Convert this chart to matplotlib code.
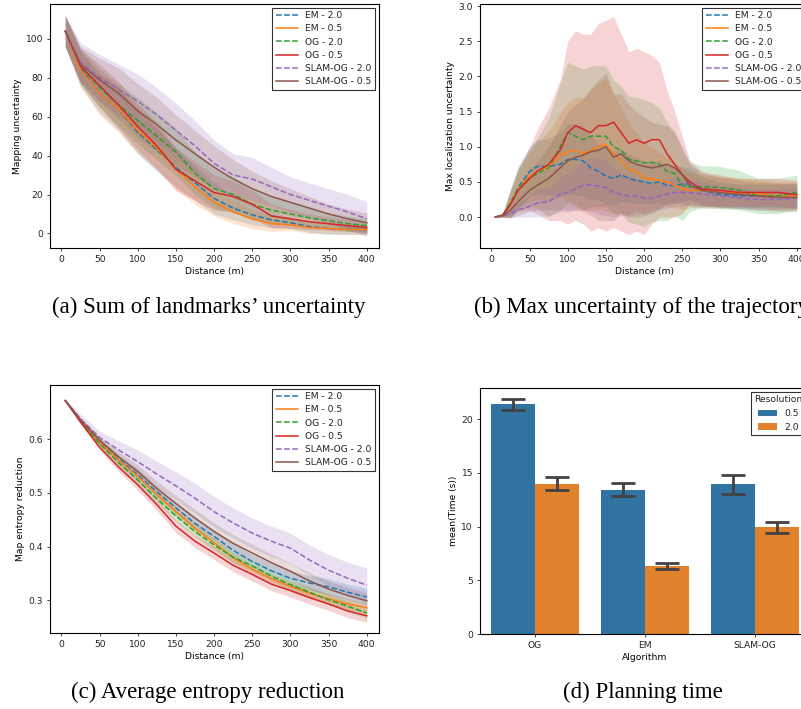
import numpy as np
import matplotlib
matplotlib.use('Agg')
import matplotlib.pyplot as plt

# series order for the three line panels
labels = ['EM - 2.0', 'EM - 0.5', 'OG - 2.0', 'OG - 0.5', 'SLAM-OG - 2.0', 'SLAM-OG - 0.5']
colors = ['#1f77b4', '#ff7f0e', '#2ca02c', '#d62728', '#9467bd', '#8c564b']
styles = ['--', '-', '--', '-', '--', '-']

# (a) mapping uncertainty
dist_a = [5, 25, 50, 75, 100, 125, 150, 175, 200, 225, 250, 275, 300, 325, 350, 375, 400]
map_mean = [
    [104, 85, 72, 64, 52, 43, 34, 26, 18, 13, 9.5, 7, 5.5, 3.5, 2.5, 2, 2],
    [104, 84, 72, 64, 53, 44, 33, 24, 16, 11, 7.5, 5, 4.5, 3, 2.5, 2, 2],
    [104, 86, 75, 66, 58, 50, 42, 31, 23, 20, 15, 12, 10, 8, 6.5, 5, 4],
    [104, 86, 76, 66, 55, 45, 33, 27, 21, 19, 15, 9, 7.5, 6, 5, 4, 3],
    [104, 88, 80, 74, 68, 61, 53, 45, 36, 30, 28, 24, 20, 17, 14, 11, 7.5],
    [104, 87, 79, 72, 63, 56, 48, 41, 34, 28, 23, 19, 16, 13, 10, 7.5, 5.5],
]
map_std = [
    [8, 9, 10, 11, 11, 11, 10, 9, 8, 6, 5, 4, 3, 3, 3, 2.5, 2.5],
    [8, 9, 11, 12, 12, 11, 10, 9, 7, 6, 5, 4, 3, 3, 2.5, 2.5, 2.5],
    [8, 9, 10, 11, 12, 12, 12, 11, 10, 9, 8, 7, 6, 5, 4, 4, 3.5],
    [8, 9, 11, 12, 12, 12, 11, 10, 9, 8, 7, 6, 5, 4, 3.5, 3, 3],
    [8, 10, 12, 13, 14, 14, 14, 13, 12, 11, 11, 10, 9, 9, 9, 9, 9],
    [8, 9, 11, 13, 14, 14, 13, 12, 11, 10, 9, 8, 7, 6, 5, 5, 5],
]

# (b) max localization uncertainty
dist_b = [5, 15, 25, 35, 50, 60, 75, 90, 100, 110, 120, 130, 140, 150, 160, 170, 180,
          190, 200, 210, 220, 230, 240, 250, 260, 275, 300, 325, 350, 375, 400]
loc_mean = [
    [0, 0.03, 0.2, 0.42, 0.65, 0.72, 0.72, 0.75, 0.82, 0.82, 0.8, 0.7, 0.65, 0.58, 0.55, 0.6,
     0.55, 0.52, 0.5, 0.48, 0.5, 0.45, 0.45, 0.47, 0.47, 0.38, 0.32, 0.3, 0.3, 0.3, 0.3],
    [0, 0.02, 0.2, 0.4, 0.58, 0.65, 0.72, 0.88, 0.93, 0.95, 0.9, 0.95, 1.0, 1.03, 0.9, 0.8,
     0.68, 0.65, 0.55, 0.55, 0.52, 0.5, 0.45, 0.4, 0.38, 0.38, 0.35, 0.35, 0.33, 0.3, 0.3],
    [0, 0.03, 0.2, 0.4, 0.55, 0.62, 0.7, 1.0, 1.2, 1.15, 1.1, 1.15, 1.15, 1.15, 1.0, 0.95,
     0.82, 0.8, 0.77, 0.78, 0.75, 0.65, 0.62, 0.45, 0.43, 0.43, 0.42, 0.38, 0.3, 0.3, 0.35],
    [0, 0.03, 0.18, 0.38, 0.55, 0.65, 0.75, 0.95, 1.2, 1.3, 1.25, 1.2, 1.3, 1.3, 1.35, 1.2,
     1.05, 1.1, 1.05, 1.1, 1.1, 0.9, 0.75, 0.6, 0.5, 0.4, 0.38, 0.35, 0.35, 0.35, 0.32],
    [0, 0.02, 0.05, 0.1, 0.15, 0.2, 0.22, 0.32, 0.35, 0.4, 0.45, 0.46, 0.44, 0.42, 0.35, 0.32,
     0.3, 0.3, 0.27, 0.27, 0.3, 0.33, 0.35, 0.35, 0.35, 0.33, 0.3, 0.27, 0.25, 0.25, 0.27],
    [0, 0.02, 0.1, 0.22, 0.38, 0.45, 0.55, 0.7, 0.8, 0.85, 0.88, 0.93, 0.95, 1.0, 0.85, 0.9,
     0.8, 0.75, 0.72, 0.7, 0.72, 0.75, 0.7, 0.6, 0.45, 0.38, 0.35, 0.32, 0.3, 0.28, 0.28],
]
loc_std = [
    [0, 0.03, 0.2, 0.3, 0.35, 0.38, 0.4, 0.45, 0.5, 0.5, 0.5, 0.45, 0.4, 0.4, 0.38, 0.38,
     0.35, 0.33, 0.3, 0.3, 0.3, 0.28, 0.25, 0.25, 0.22, 0.2, 0.18, 0.17, 0.17, 0.17, 0.17],
    [0, 0.02, 0.15, 0.25, 0.35, 0.4, 0.5, 0.6, 0.7, 0.75, 0.8, 0.85, 0.9, 0.95, 0.85, 0.75,
     0.65, 0.55, 0.5, 0.45, 0.4, 0.35, 0.32, 0.3, 0.25, 0.22, 0.22, 0.2, 0.2, 0.2, 0.2],
    [0, 0.03, 0.2, 0.3, 0.4, 0.5, 0.7, 0.9, 1.0, 1.0, 1.0, 1.0, 1.0, 1.0, 0.95, 0.9,
     0.9, 0.9, 0.9, 0.85, 0.8, 0.7, 0.6, 0.5, 0.35, 0.3, 0.3, 0.28, 0.25, 0.25, 0.25],
    [0, 0.03, 0.2, 0.3, 0.45, 0.6, 0.8, 1.0, 1.3, 1.35, 1.35, 1.4, 1.45, 1.5, 1.5, 1.4,
     1.3, 1.3, 1.3, 1.2, 1.1, 0.9, 0.75, 0.55, 0.3, 0.25, 0.22, 0.2, 0.2, 0.2, 0.2],
    [0, 0.02, 0.05, 0.1, 0.15, 0.2, 0.2, 0.25, 0.28, 0.3, 0.35, 0.38, 0.4, 0.4, 0.35, 0.3,
     0.28, 0.25, 0.22, 0.2, 0.2, 0.2, 0.2, 0.2, 0.18, 0.17, 0.15, 0.15, 0.15, 0.15, 0.15],
    [0, 0.02, 0.1, 0.2, 0.3, 0.35, 0.45, 0.6, 0.7, 0.75, 0.8, 0.9, 1.0, 1.05, 0.9, 0.85,
     0.8, 0.75, 0.7, 0.65, 0.6, 0.55, 0.5, 0.4, 0.3, 0.25, 0.22, 0.2, 0.2, 0.2, 0.2],
]

# (c) map entropy reduction
dist_c = [5, 25, 50, 75, 100, 125, 150, 175, 200, 225, 250, 275, 300, 325, 350, 375, 400]
ent_mean = [
    [0.672, 0.635, 0.596, 0.563, 0.534, 0.502, 0.472, 0.443, 0.419, 0.393, 0.372, 0.355, 0.341, 0.332, 0.325, 0.315, 0.306],
    [0.672, 0.635, 0.595, 0.561, 0.531, 0.497, 0.465, 0.434, 0.407, 0.379, 0.358, 0.34, 0.326, 0.313, 0.303, 0.293, 0.286],
    [0.672, 0.634, 0.592, 0.556, 0.524, 0.489, 0.457, 0.428, 0.403, 0.38, 0.364, 0.345, 0.329, 0.315, 0.301, 0.289, 0.276],
    [0.672, 0.632, 0.585, 0.548, 0.515, 0.478, 0.438, 0.41, 0.388, 0.365, 0.348, 0.33, 0.318, 0.305, 0.293, 0.28, 0.271],
    [0.672, 0.638, 0.603, 0.58, 0.558, 0.535, 0.513, 0.49, 0.465, 0.444, 0.425, 0.41, 0.397, 0.375, 0.356, 0.341, 0.328],
    [0.672, 0.636, 0.598, 0.567, 0.54, 0.508, 0.48, 0.453, 0.428, 0.406, 0.388, 0.37, 0.354, 0.336, 0.321, 0.309, 0.299],
]
ent_std = [
    [0.002, 0.004, 0.006, 0.008, 0.01, 0.011, 0.012, 0.012, 0.012, 0.013, 0.013, 0.013, 0.014, 0.014, 0.015, 0.015, 0.016],
    [0.002, 0.004, 0.006, 0.007, 0.008, 0.009, 0.01, 0.01, 0.01, 0.01, 0.01, 0.01, 0.01, 0.01, 0.01, 0.01, 0.01],
    [0.002, 0.004, 0.006, 0.007, 0.008, 0.009, 0.01, 0.01, 0.01, 0.01, 0.01, 0.01, 0.01, 0.01, 0.01, 0.01, 0.01],
    [0.002, 0.004, 0.006, 0.008, 0.01, 0.011, 0.012, 0.012, 0.012, 0.012, 0.012, 0.012, 0.012, 0.012, 0.012, 0.012, 0.012],
    [0.003, 0.008, 0.012, 0.017, 0.022, 0.024, 0.026, 0.028, 0.028, 0.028, 0.028, 0.028, 0.028, 0.028, 0.029, 0.03, 0.032],
    [0.002, 0.004, 0.007, 0.01, 0.012, 0.014, 0.015, 0.016, 0.016, 0.016, 0.016, 0.016, 0.016, 0.015, 0.015, 0.015, 0.015],
]

# (d) planning time
algorithms = ['OG', 'EM', 'SLAM-OG']
resolutions = ['0.5', '2.0']
time_mean = [[21.37, 13.44, 13.97], [13.97, 6.35, 9.98]]
time_lo = [[20.84, 12.85, 13.03], [13.44, 6.07, 9.36]]
time_hi = [[21.84, 14.03, 14.84], [14.59, 6.63, 10.45]]
bar_colors = ['#3274a1', '#e1812c']

plt.rcParams['font.family'] = 'DejaVu Sans'
plt.rcParams['font.size'] = 6.6
plt.rcParams['axes.linewidth'] = 0.8
plt.rcParams['xtick.major.size'] = 2.5
plt.rcParams['ytick.major.size'] = 2.5
plt.rcParams['xtick.major.width'] = 0.6
plt.rcParams['ytick.major.width'] = 0.6
plt.rcParams['xtick.major.pad'] = 2.5
plt.rcParams['ytick.major.pad'] = 2.5
plt.rcParams['axes.labelpad'] = 2.5
plt.rcParams['text.color'] = '#222222'
plt.rcParams['xtick.color'] = '#222222'
plt.rcParams['ytick.color'] = '#222222'

W, H = 801, 709
fig = plt.figure(figsize=(W/100, H/100), dpi=100)

def box(l, t, r, b):
    return [l/W, 1-b/H, (r-l)/W, (b-t)/H]

def line_panel(ax, x, means, stds, ylabel):
    x = np.array(x)
    for m, s, c, ls, lab in zip(means, stds, colors, styles, labels):
        m = np.array(m); s = np.array(s)
        ax.fill_between(x, m-s, m+s, color=c, alpha=0.2, lw=0)
        ax.plot(x, m, ls, color=c, lw=1.1, label=lab)
    ax.set_xlabel('Distance (m)')
    ax.set_ylabel(ylabel)
    ax.set_xlim(-15, 416)
    ax.set_xticks([0, 50, 100, 150, 200, 250, 300, 350, 400])
    leg = ax.legend(loc='upper right', fancybox=False, edgecolor='black', fontsize=6.6,
                    borderaxespad=0.4, handlelength=2.4, labelspacing=0.45)
    leg.get_frame().set_linewidth(0.8)

ax1 = fig.add_axes(box(50, 4, 379, 248))
line_panel(ax1, dist_a, map_mean, map_std, 'Mapping uncertainty')
ax1.set_ylim(-7.5, 118)
ax1.set_yticks([0, 20, 40, 60, 80, 100])

ax2 = fig.add_axes(box(480, 4, 809, 248))
line_panel(ax2, dist_b, loc_mean, loc_std, 'Max localization uncertainty')
ax2.set_ylim(-0.44, 3.03)
ax2.set_yticks([0.0, 0.5, 1.0, 1.5, 2.0, 2.5, 3.0])

ax3 = fig.add_axes(box(50, 385, 379, 633))
line_panel(ax3, dist_c, ent_mean, ent_std, 'Map entropy reduction')
ax3.set_ylim(0.239, 0.701)
ax3.set_yticks([0.3, 0.4, 0.5, 0.6])

ax4 = fig.add_axes(box(480, 388, 810, 634))
xpos = np.arange(len(algorithms))
for j, res in enumerate(resolutions):
    xs = xpos - 0.2 + 0.4*j
    ax4.bar(xs, time_mean[j], width=0.4, color=bar_colors[j], label=res)
    lo = np.array(time_mean[j]) - np.array(time_lo[j])
    hi = np.array(time_hi[j]) - np.array(time_mean[j])
    ax4.errorbar(xs, time_mean[j], yerr=[lo, hi], fmt='none', ecolor='#424242',
                 elinewidth=2.0, capsize=8.5, capthick=2.0)
ax4.set_xticks(xpos)
ax4.set_xticklabels(algorithms)
ax4.set_xlim(-0.5, 2.5)
ax4.set_ylim(0, 22.9)
ax4.set_yticks([0, 5, 10, 15, 20])
ax4.set_xlabel('Algorithm')
ax4.set_ylabel('mean(Time (s))')
leg = ax4.legend(title='Resolution', loc='upper right', fancybox=False, edgecolor='black',
                 fontsize=6.6, title_fontsize=6.6, borderaxespad=0.4)
leg.get_frame().set_linewidth(0.8)

cap = dict(family='Liberation Serif', fontsize=16.5, color='black', ha='center', va='baseline')
fig.text(209/W, 1-313/H, '(a) Sum of landmarks\u2019 uncertainty', **cap)
fig.text(641/W, 1-313/H, '(b) Max uncertainty of the trajectory', **cap)
fig.text(208/W, 1-698/H, '(c) Average entropy reduction', **cap)
fig.text(643/W, 1-698/H, '(d) Planning time', **cap)

fig.savefig('out.png', dpi=100)
